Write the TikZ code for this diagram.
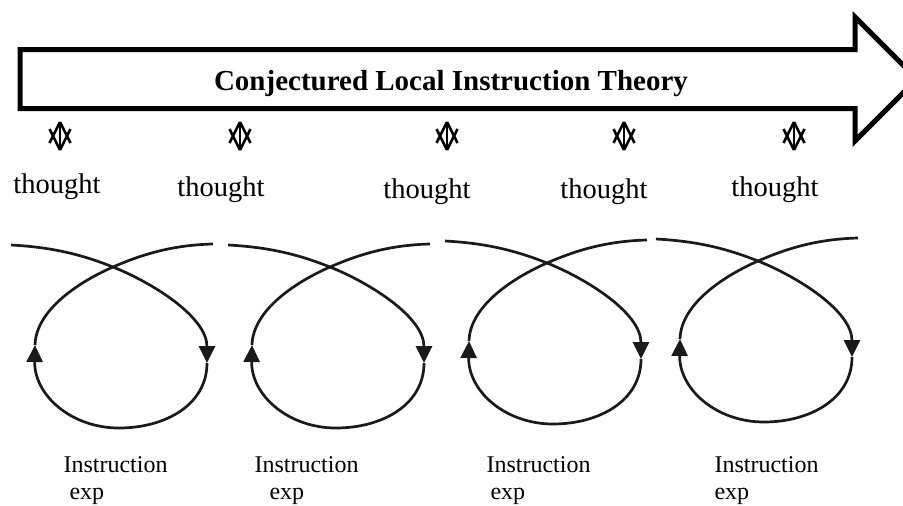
\documentclass[tikz,border=0pt]{standalone}
\usepackage{fontspec}
\setmainfont{Liberation Serif}
\usepackage{tikz}
\usetikzlibrary{arrows.meta}
\definecolor{ink}{HTML}{1A1A1A}

\tikzset{
  bigarrow/.style={draw=black, line width=5pt},
  glyph/.style={draw=black, line width=2.5pt},
  cycleline/.style={draw=ink, line width=2.7pt},
  cyclehead/.style={-{Triangle[length=17pt,width=16pt]}},
  thoughttext/.style={anchor=base, font=\fontsize{28.5}{30}\selectfont},
  steptext/.style={anchor=base west, font=\fontsize{24}{26}\selectfont},
}

\begin{document}
\begin{tikzpicture}[x=1pt, y=-1pt]
  \useasboundingbox (0,0) rectangle (903,506);
  \clip (0,0) rectangle (903,506);
  % the long arrow
  \draw[bigarrow] (20,49.5) -- (855,49.5) -- (855,17) -- (917,79) -- (855,141) -- (855,108.5) -- (20,108.5) -- cycle;
  \node[anchor=base, font=\bfseries\fontsize{29}{31}\selectfont] (theory) at (451,90) {Conjectured Local Instruction Theory};
  % up-down marks under the arrow
  \foreach \gx in {60,240,447,624,794} {
    \draw[glyph] (\gx,122) -- (\gx,150);
    \draw[glyph] (\gx,122) -- (\gx-10.5,143) (\gx,150) -- (\gx-10.5,129);
    \draw[glyph] (\gx,122) -- (\gx+10.5,143) (\gx,150) -- (\gx+10.5,129);
  }
  \node[thoughttext] (t1) at (57,193) {thought};
  \node[thoughttext] (t2) at (221,196) {thought};
  \node[thoughttext] (t3) at (427,198) {thought};
  \node[thoughttext] (t4) at (604,198) {thought};
  \node[thoughttext] (t5) at (775,196) {thought};
  % the four cycles
  \foreach \cx/\cy in {113/267, 330/267, 547/263, 758/261} {
    \begin{scope}[shift={(\cx,\cy)}]
      \draw[cycleline, cyclehead] (-102,-22) .. controls (-65,-20) and (-35,-14) .. (0,0)
        .. controls (40,16) and (94,50) .. (94,96);
      \draw[cycleline, cyclehead] (94,96) .. controls (94,138) and (52,161) .. (6,161)
        .. controls (-42,161) and (-79,128) .. (-78,78);
      \draw[cycleline] (-78,78) .. controls (-77,42) and (-32,14) .. (0,0)
        .. controls (32,-14) and (62,-22) .. (100,-23);
    \end{scope}
  }
  \node[steptext] (i1) at (60,472) {Instruction};
  \node[steptext] (i2) at (251,472) {Instruction};
  \node[steptext] (i3) at (483,472) {Instruction};
  \node[steptext] (i4) at (711,472) {Instruction};
  \node[steptext] (e1) at (66,499) {exp};
  \node[steptext] (e2) at (266,499) {exp};
  \node[steptext] (e3) at (487,499) {exp};
  \node[steptext] (e4) at (711,499) {exp};
\end{tikzpicture}
\end{document}
